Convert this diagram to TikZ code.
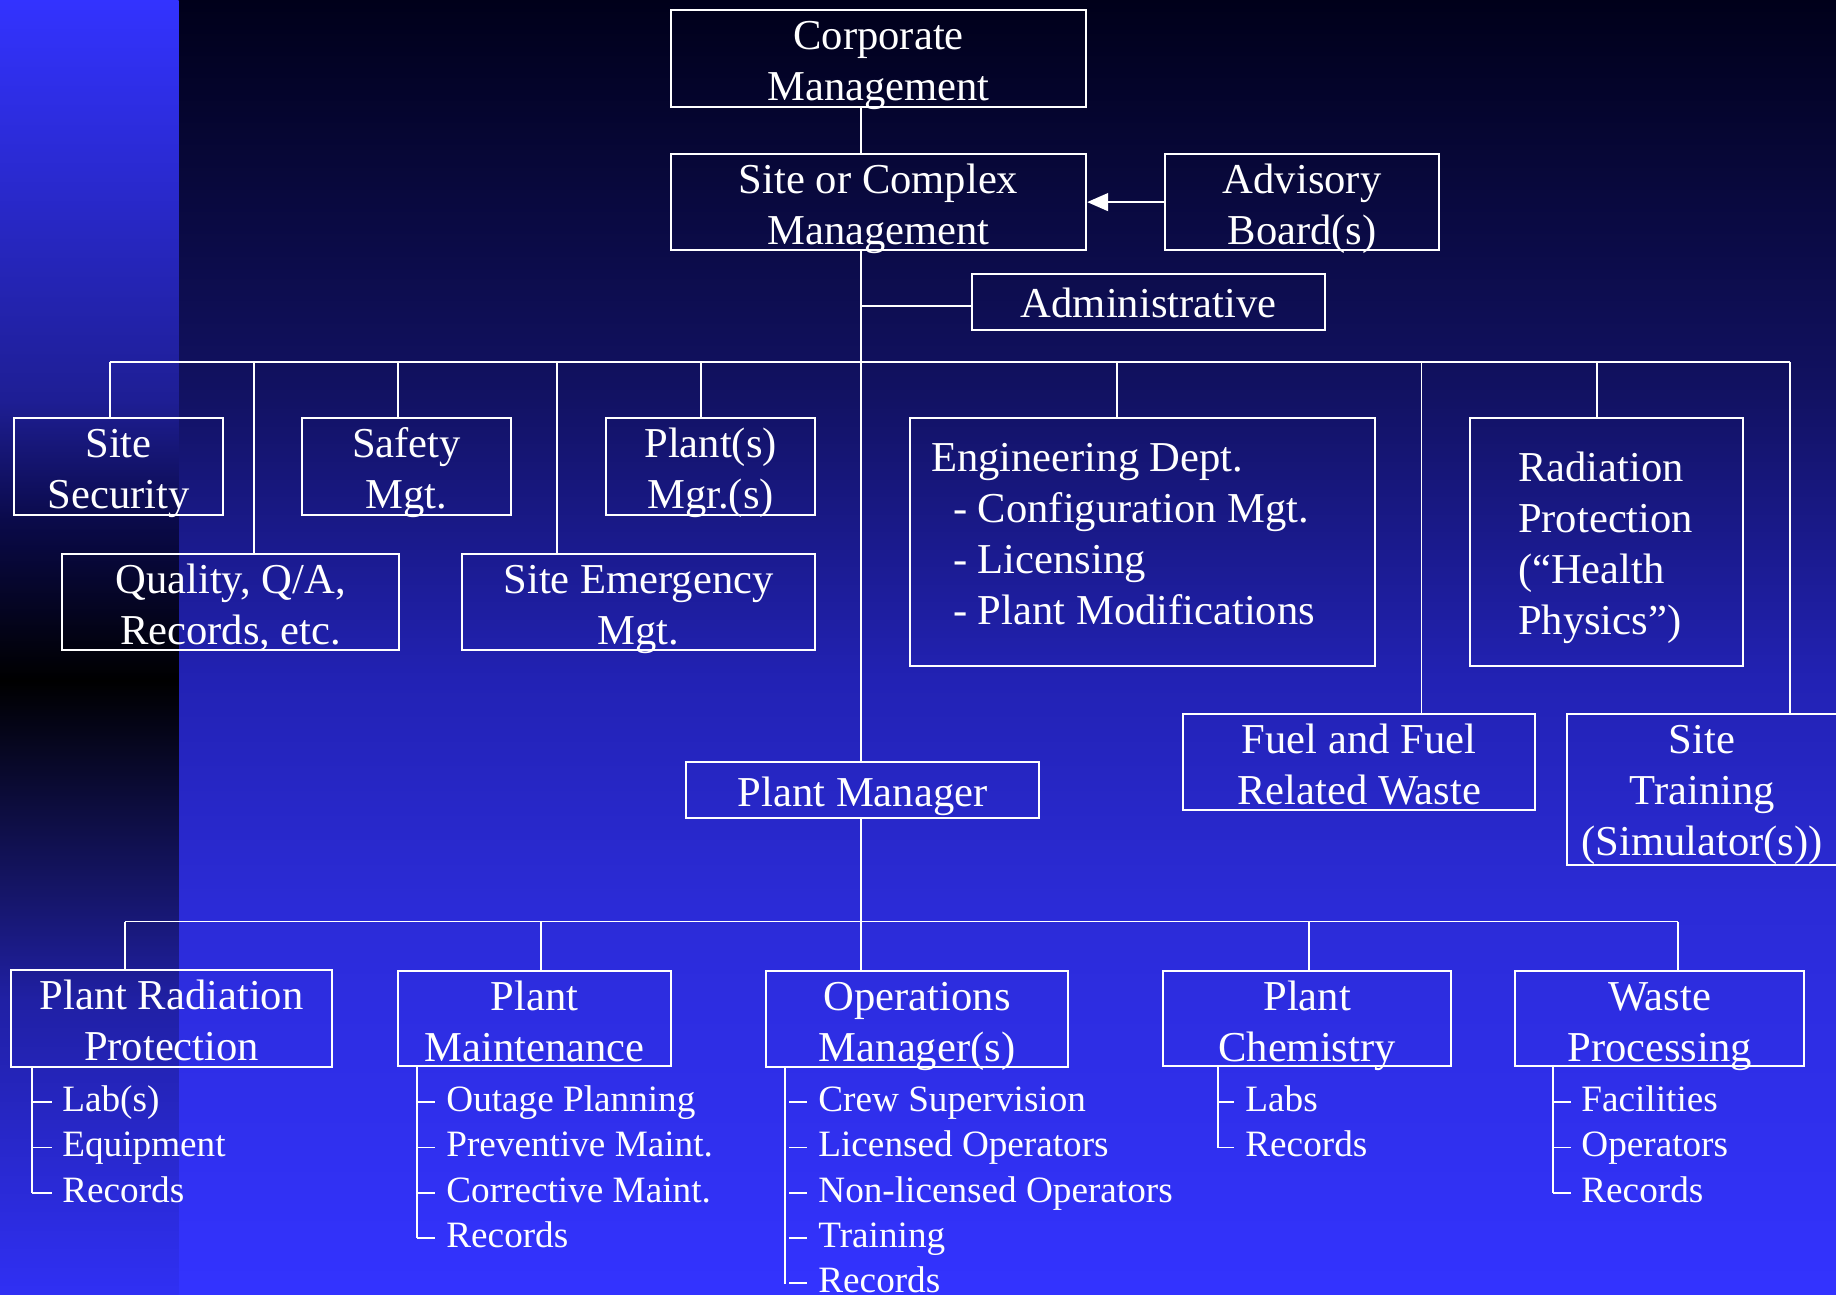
\documentclass[tikz,border=0pt]{standalone}
\usepackage{fontspec}
\setmainfont{Liberation Serif}
\usetikzlibrary{arrows.meta}
\definecolor{m0}{HTML}{00001A}
\definecolor{m1}{HTML}{121264}
\definecolor{m2}{HTML}{2222B4}
\definecolor{m3}{HTML}{2B2BD6}
\definecolor{m4}{HTML}{3333FF}
\definecolor{s0}{HTML}{3333FF}
\definecolor{s1}{HTML}{1E1E94}
\definecolor{s2}{HTML}{0A0A4A}
\definecolor{s3}{HTML}{000000}
\definecolor{s4}{HTML}{16166C}
\definecolor{s5}{HTML}{2020A4}
\definecolor{s6}{HTML}{3030F4}
\newcommand\boxtxt[1]{\begin{tabular}[t]{@{}c@{}}#1\end{tabular}}
\newcommand\boxtxtl[1]{\begin{tabular}[t]{@{}l@{}}#1\end{tabular}}
\begin{document}
\begin{tikzpicture}[x=0.5pt,y=-0.5pt,
  box/.style={draw=white, line width=1.1pt, inner sep=0pt, text=white,
    font=\fontsize{21.3}{25.5}\selectfont, anchor=north west},
  std/.style={text height=19.5pt, text depth=29pt},
  conn/.style={draw=white, line width=0.8pt},
  sub/.style={text=white, font=\fontsize{18.6}{22.5}\selectfont, inner sep=0pt, anchor=base west},
  tick/.style={draw=white, line width=0.8pt}]
\useasboundingbox (0,0) rectangle (1836,1295);
% background: main area
\shade[top color=m0,bottom color=m1] (178,0) rectangle (1836,401);
\shade[top color=m1,bottom color=m2] (178,400) rectangle (1836,681);
\shade[top color=m2,bottom color=m3] (178,680) rectangle (1836,901);
\shade[top color=m3,bottom color=m4] (178,900) rectangle (1836,1295);
% background: left strip
\shade[top color=s0,bottom color=s1] (0,0) rectangle (178.5,401);
\shade[top color=s1,bottom color=s2] (0,400) rectangle (178.5,521);
\shade[top color=s2,bottom color=s3] (0,520) rectangle (178.5,681);
\shade[top color=s3,bottom color=s4] (0,680) rectangle (178.5,901);
\shade[top color=s4,bottom color=s5] (0,900) rectangle (178.5,1001);
\shade[top color=s5,bottom color=s6] (0,1000) rectangle (178.5,1295);

% boxes
\node[box, minimum width=207.5pt, std] (corp) at (670,9) {\boxtxt{Corporate\\Management}};
\node[box, minimum width=207.5pt, text height=19.5pt, text depth=28.5pt] (site) at (670,153) {\boxtxt{Site or Complex\\Management}};
\node[box, minimum width=137pt, text height=19.5pt, text depth=28.5pt] (adv) at (1164,153) {\boxtxt{Advisory\\Board(s)}};
\node[box, minimum width=176.5pt, text height=21.5pt, text depth=6.5pt] (admin) at (971,273) {Administrative};

\node[box, minimum width=104.5pt, std] (sec) at (13,417) {\boxtxt{Site\\Security}};
\node[box, minimum width=104.5pt, std] (safe) at (301,417) {\boxtxt{Safety\\Mgt.}};
\node[box, minimum width=104.5pt, std] (plants) at (605,417) {\boxtxt{Plant(s)\\Mgr.(s)}};
\node[box, minimum width=168.5pt, text height=19.5pt, text depth=28.5pt] (qual) at (61,553) {\boxtxt{Quality, Q/A,\\Records, etc.}};
\node[box, minimum width=176.5pt, text height=19.5pt, text depth=28.5pt] (emerg) at (461,553) {\boxtxt{Site Emergency\\Mgt.}};
\node[box, minimum width=232.5pt, text height=26.5pt, text depth=97.5pt] (eng) at (909,417)
  {\hbox to 232.5pt{\hskip10.5pt\boxtxtl{Engineering Dept.\\\hspace*{11pt}- Configuration Mgt.\\\hspace*{11pt}- Licensing\\\hspace*{11pt}- Plant Modifications}\hfil}};
\node[box, minimum width=136.5pt, text height=31.5pt, text depth=92.5pt] (rad) at (1469,417)
  {\hbox to 136.5pt{\hskip24pt\boxtxtl{Radiation\\Protection\\(“Health\\Physics”)}\hfil}};
\node[box, minimum width=176pt, text height=19.5pt, text depth=28.5pt] (fuel) at (1182,713) {\boxtxt{Fuel and Fuel\\Related Waste}};
\node[box, minimum width=135pt, text height=19.5pt, text depth=56pt] (train) at (1566,713) {\boxtxt{Site\\Training\\(Simulator(s))}};
\node[box, minimum width=176.5pt, text height=22pt, text depth=6pt] (pm) at (685,761) {Plant Manager};

\node[box, minimum width=160.5pt, std] (prp) at (10,969) {\boxtxt{Plant Radiation\\Protection}};
\node[box, minimum width=136.5pt, text height=19.5pt, text depth=28pt] (pmaint) at (397,970) {\boxtxt{Plant\\Maintenance}};
\node[box, minimum width=151pt, text height=19.5pt, text depth=28.5pt] (ops) at (765,970) {\boxtxt{Operations\\Manager(s)}};
\node[box, minimum width=144pt, text height=19.5pt, text depth=28pt] (chem) at (1162,970) {\boxtxt{Plant\\Chemistry}};
\node[box, minimum width=144.5pt, text height=19.5pt, text depth=28pt] (waste) at (1514,970) {\boxtxt{Waste\\Processing}};

% spine and connectors
\coordinate (spine) at (861,0);
\draw[conn] (corp.south -| spine) -- (site.north -| spine);
\draw[conn] (site.south -| spine) -- (pm.north -| spine);
\draw[conn] (pm.south -| spine) -- (ops.north -| spine);
\draw[conn, -{Triangle[length=10.5pt,width=9pt]}] (adv.west) -- (site.east);
\coordinate (adm) at ([yshift=-2pt]admin.west);
\draw[conn] (adm) -- (adm -| spine);

% upper bus
\draw[conn] (110,362) -- (1790,362);
\draw[conn] (110,362) -- (sec.north -| 110,0);
\draw[conn] (254,362) -- (qual.north -| 254,0);
\draw[conn] (398,362) -- (safe.north -| 398,0);
\draw[conn] (557,362) -- (emerg.north -| 557,0);
\draw[conn] (701,362) -- (plants.north -| 701,0);
\draw[conn] (1117,362) -- (eng.north -| 1117,0);
\draw[conn] (1421.5,362) -- (fuel.north -| 1421.5,0);
\draw[conn] (1597,362) -- (rad.north -| 1597,0);
\draw[conn] (1790,362) -- (train.north -| 1790,0);

% lower bus
\draw[conn] (125,921.5) -- (1678,921.5);
\draw[conn] (125,921.5) -- (prp.north -| 125,0);
\draw[conn] (541,921.5) -- (pmaint.north -| 541,0);
\draw[conn] (1309,921.5) -- (chem.north -| 1309,0);
\draw[conn] (1678,921.5) -- (waste.north -| 1678,0);

% sub lists
\node[sub] (prp1) at (62,1111) {Lab(s)};
\node[sub] (prp2) at (62,1156.5) {Equipment};
\node[sub] (prp3) at (62,1202) {Records};
\draw[tick] (prp.south -| 32,0) -- (32,1193);
\foreach \y in {1102,1147.5,1193} \draw[tick] (32,\y) -- (52,\y);

\node[sub] (pm1) at (446,1111) {Outage Planning};
\node[sub] (pm2) at (446,1156.5) {Preventive Maint.};
\node[sub] (pm3) at (446,1202) {Corrective Maint.};
\node[sub] (pm4) at (446,1247) {Records};
\draw[tick] (pmaint.south -| 417,0) -- (417,1238);
\foreach \y in {1102,1147.5,1193,1238} \draw[tick] (417,\y) -- (435,\y);

\node[sub] (op1) at (818,1111) {Crew Supervision};
\node[sub] (op2) at (818,1156.5) {Licensed Operators};
\node[sub] (op3) at (818,1202) {Non-licensed Operators};
\node[sub] (op4) at (818,1247) {Training};
\node[sub] (op5) at (818,1292) {Records};
\draw[tick] (ops.south -| 785,0) -- (785,1284);
\foreach \y in {1102,1147.5,1193,1238,1283} \draw[tick] (789,\y) -- (807,\y);

\node[sub] (ch1) at (1245,1111) {Labs};
\node[sub] (ch2) at (1245,1156.5) {Records};
\draw[tick] (chem.south -| 1218,0) -- (1218,1147.5);
\foreach \y in {1102,1147.5} \draw[tick] (1218,\y) -- (1234,\y);

\node[sub] (wp1) at (1581,1111) {Facilities};
\node[sub] (wp2) at (1581,1156.5) {Operators};
\node[sub] (wp3) at (1581,1202) {Records};
\draw[tick] (waste.south -| 1553,0) -- (1553,1193);
\foreach \y in {1102,1147.5,1193} \draw[tick] (1553,\y) -- (1571,\y);
\end{tikzpicture}
\end{document}
